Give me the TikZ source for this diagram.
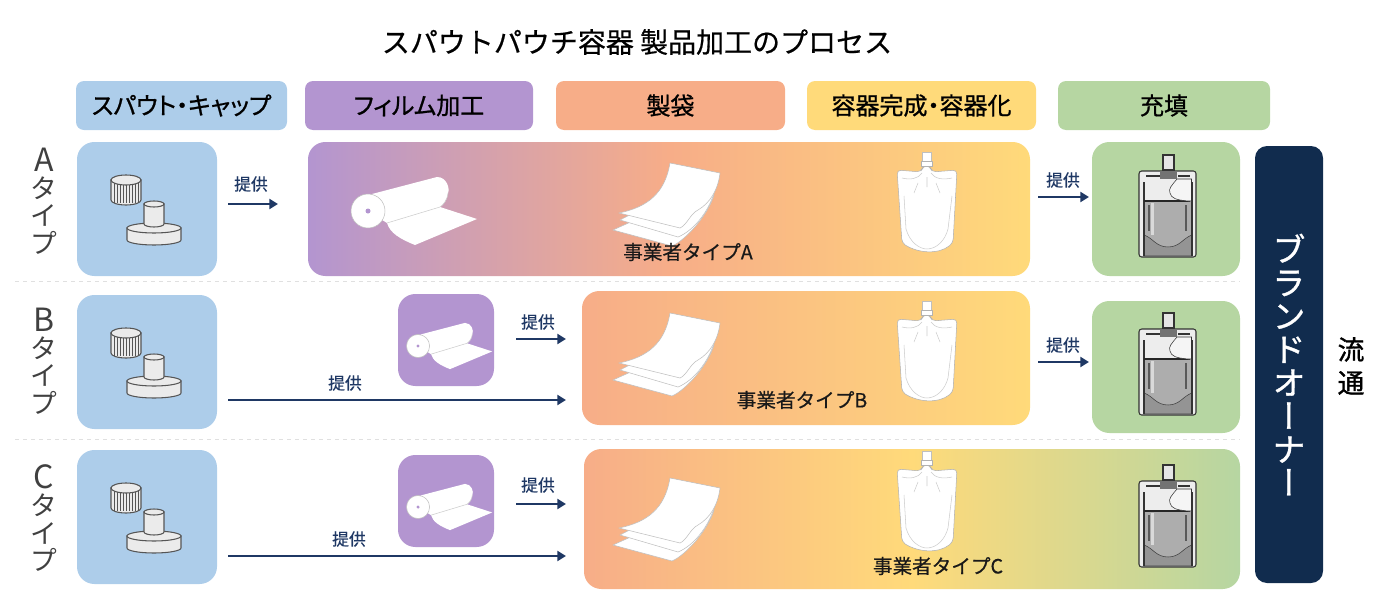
\documentclass[tikz,border=0pt]{standalone}
\usepackage{fontspec}
\setmainfont{Noto Sans CJK JP}
\newfontfamily\vertfont[RawFeature=+vert,FakeBold=1]{Noto Sans CJK JP}
\newfontfamily\headfont[RawFeature=+palt,FakeBold=.9]{Noto Sans CJK JP}
\newfontfamily\labelfont[FakeBold=.5]{Noto Sans CJK JP}
\newfontfamily\flowfont[FakeBold=1.1]{Noto Sans CJK JP}
\usetikzlibrary{arrows.meta}
\definecolor{spoutC}{HTML}{ADCDEA}
\definecolor{filmC}{HTML}{B395D0}
\definecolor{bagC}{HTML}{F7AD88}
\definecolor{pouchC}{HTML}{FFDA7A}
\definecolor{fillC}{HTML}{B6D6A2}
\definecolor{brandC}{HTML}{112C4E}
\definecolor{arrowC}{HTML}{1F3864}
\definecolor{iconC}{HTML}{555555}
\pgfdeclarehorizontalshading{gradA}{100bp}{color(0bp)=(filmC);color(25bp)=(filmC);color(50bp)=(bagC);color(75bp)=(pouchC);color(100bp)=(pouchC)}
\pgfdeclarehorizontalshading{gradB}{100bp}{color(0bp)=(bagC);color(25bp)=(bagC);color(75bp)=(pouchC);color(100bp)=(pouchC)}
\pgfdeclarehorizontalshading{gradC}{100bp}{color(0bp)=(bagC);color(25bp)=(bagC);color(50bp)=(pouchC);color(75bp)=(fillC);color(100bp)=(fillC)}
\tikzset{
  capsetP/.pic={
    \draw[iconC,fill=white!92!black,thick] (-36,-28) -- (-36,-8) arc[start angle=180,end angle=0,x radius=15,y radius=5] -- (-6,-28) -- cycle;
    \foreach \rib in {-33,-30,...,-9} \draw[iconC,thin] (\rib,-25) -- (\rib,-5);
    \draw[iconC,fill=white!92!black,thick] (-21,-28) ellipse[x radius=15,y radius=5];
    \draw[iconC,fill=white!92!black,thick] (-20,20) -- (-20,32) arc[start angle=180,end angle=0,x radius=27,y radius=5] -- (34,20) -- cycle;
    \draw[iconC,fill=white!92!black,thick] (7,20) ellipse[x radius=27,y radius=5];
    \draw[iconC,fill=white!92!black,thick] (-3,-4) -- (-3,16) arc[start angle=180,end angle=0,x radius=10,y radius=3] -- (17,-4) -- cycle;
    \draw[iconC,fill=white!92!black,thick] (7,-4) ellipse[x radius=10,y radius=3];
  },
  rollP/.pic={
    \fill[white] (-43,-17) -- (22,-34) .. controls (32,-34) and (35,-22) .. (33,-18) .. controls (32,-10) and (28,-6) .. (25,-4) -- (62,8) -- (0,34) .. controls (-15,28) and (-25,22) .. (-28,12) -- (-47,0) -- cycle;
    \draw[black!20] (-28,12) -- (25,-4) .. controls (28,-6) and (32,-10) .. (33,-18);
    \draw[black!25,fill=white] (-47,0) circle[radius=17];
    \fill[filmC] (-47,0) circle[radius=2.5];
  },
  sheetP/.pic={
    \draw[black!25,fill=white] (-55,25) -- (4,41) .. controls (18,35) and (40,10) .. (46,-10) -- (0,0) -- cycle;
    \draw[black!25,fill=white] (-48,15) -- (10,32) .. controls (25,26) and (45,5) .. (50,-28) -- (0,-10) -- cycle;
    \draw[black!25,fill=white] (-49,8) .. controls (-20,2) and (-3,-12) .. (2,-42) -- (52,-32) .. controls (50,-15) and (42,-2) .. (30,5) .. controls (22,9) and (19,20) .. (12,23) -- cycle;
  },
  pouchP/.pic={
    \draw[black!25,fill=white] (-6,-53) rectangle (3,-44);
    \draw[black!30,fill=white,rounded corners=3pt] (-5,-39) -- (-7,-33) -- (-31,-35) -- (-26,38) .. controls (-10,48) and (10,50) .. (25,38) -- (29,-35) -- (4,-33) -- (2,-39) -- cycle;
    \draw[black!30,fill=white] (-7,-44) rectangle (4,-39);
    \draw[black!20] (-26,-27) .. controls (-18,-25) and (-10,-26) .. (-6,-32) (24,-27) .. controls (15,-25) and (7,-26) .. (3,-32) (-24,-9) -- (-22,24) .. controls (-18,38) and (-8,44) .. (-1,44) .. controls (8,44) and (17,36) .. (20,24) -- (24,-9) (-1,-28) -- (-1,-18) (-10,-22) -- (-14,-12) (8,-22) -- (12,-12);
  },
  filledP/.pic={
    \draw[black!80,fill=black!10,thick] (-5,-58) rectangle (6,-43);
    \draw[black!80,fill=white!93!black,thick,rounded corners=2pt] (-29,-42) rectangle (28,44);
    \fill[black!32] (-24,-12) rectangle (24,43);
    \fill[white!85!black] (-17,-10) rectangle (-14,22);
    \draw[black!75,fill=black!42] (-24,22) .. controls (-15,25) and (-12,34) .. (0,34) .. controls (12,34) and (15,25) .. (24,22) -- (24,43) -- (-24,43) -- cycle;
    \draw[black!80,thick] (-24,43) -- (-24,-31) (24,43) -- (24,-31);
    \draw[black!85,line width=1.2pt] (-24,-12) -- (22,-12);
    \draw[black!65,line width=.9pt] (-19,-8) -- (-19,18) (18,-8) -- (18,18);
    \draw[black!80,fill=white!96!black] (9,-34) .. controls (4,-28) and (0,-24) .. (2,-20) .. controls (3,-15) and (8,-13) .. (20,-12) -- (23.5,-12) -- (23.5,-34) -- cycle;
    \draw[black!80,thick] (-22,-37) -- (-7,-37) (10,-37) -- (22,-37);
    \fill[black!55] (-8,-41) -- (9,-41) -- (9,-34) -- (-8,-34) -- cycle;
  },
}
\begin{document}
\begin{tikzpicture}
  [x=.75pt,y=-.75pt,
   sizeN/.style 2 args={minimum width=#1*.75pt,minimum height=#2*.75pt,inner sep=0pt},
   headN/.style={rounded corners=6pt,font=\fontsize{18}{19}\selectfont\headfont},
   iconN/.style={rounded corners=13pt},
   rowN/.style={font=\fontsize{20}{20.5}\selectfont,text=black!75,align=center},
   vendorN/.style={font=\fontsize{14.7}{16}\selectfont\labelfont,text=black!90},
   giveN/.style={font=\fontsize{12.6}{14}\selectfont\labelfont,text=arrowC},
   giveA/.style={arrowC,line width=2pt,-{Triangle[length=6.5pt,width=7.5pt]}},
   rowLine/.style={black!12,dashed,thin},
  ]

 \useasboundingbox (0,0) rectangle (1400,600);

 \node (title) at (637,42) {\fontsize{21}{24}\selectfont\labelfont スパウトパウチ容器 製品加工のプロセス};

 \node[headN,sizeN={211}{49},fill=spoutC] (headSpout) at (181.5,105.5) {スパウト・キャップ};
 \node[headN,sizeN={228}{49},fill=filmC] (headFilm) at (419,105.5) {フィルム加工};
 \node[headN,sizeN={229}{49},fill=bagC] (headBag) at (670.5,105.5) {製袋};
 \node[headN,sizeN={229}{49},fill=pouchC] (headPouch) at (921.5,105.5) {容器完成・容器化};
 \node[headN,sizeN={212}{49},fill=fillC] (headFill) at (1164,105.5) {充填};

 \coordinate (lineAl) at (15,281);
 \coordinate (lineAr) at (1240,281);
 \coordinate (lineBl) at (15,439);
 \coordinate (lineBr) at (1240,439);
 \draw[rowLine] (lineAl) -- (lineAr);
 \draw[rowLine] (lineBl) -- (lineBr);

 \node[rowN] (rowA) at (44,201) {{\fontsize{24}{20.5}\selectfont A}\\タ\\イ\\プ};
 \node[rowN] (rowB) at (44,361) {{\fontsize{24}{20.5}\selectfont B}\\タ\\イ\\プ};
 \node[rowN] (rowC) at (44,518) {{\fontsize{24}{20.5}\selectfont C}\\タ\\イ\\プ};

 % type A
 \node[iconN,sizeN={140}{134},fill=spoutC] (spoutA) at (147,209) {};
 \node[iconN,sizeN={722}{134},shade,shading=gradA] (vendorA) at (669,209) {};
 \node[iconN,sizeN={148}{134},fill=fillC] (fillA) at (1166,209) {};
 \pic at (147,208) {capsetP};
 \pic at (415,211) {rollP};
 \pic at (668,205) {sheetP};
 \pic at (928,205) {pouchP};
 \pic at (1168,213) {filledP};
 \node[vendorN] (nameA) at (688,252) {事業者タイプA};
 \coordinate (giveAs) at (228,204);
 \coordinate (giveAe) at (278,204);
 \draw[giveA] (giveAs) -- (giveAe);
 \node[giveN] (giveAt) at (251,184) {提供};
 \coordinate (fillAs) at (1038,197);
 \coordinate (fillAe) at (1089,197);
 \draw[giveA] (fillAs) -- (fillAe);
 \node[giveN] (fillAt) at (1063,180) {提供};

 % type B
 \node[iconN,sizeN={140}{134},fill=spoutC] (spoutB) at (147,362) {};
 \node[iconN,sizeN={96}{92},fill=filmC] (filmB) at (446,340) {};
 \node[iconN,sizeN={448}{134},shade,shading=gradB] (vendorB) at (806,358) {};
 \node[iconN,sizeN={148}{132},fill=fillC] (fillB) at (1166,367) {};
 \pic at (147,361) {capsetP};
 \pic[scale=.68] at (450,346) {rollP};
 \pic at (668,355) {sheetP};
 \pic at (928,354) {pouchP};
 \pic at (1168,371) {filledP};
 \node[vendorN] (nameB) at (802,400) {事業者タイプB};
 \coordinate (filmBs) at (516,339);
 \coordinate (filmBe) at (566,339);
 \draw[giveA] (filmBs) -- (filmBe);
 \node[giveN] (filmBt) at (538,322) {提供};
 \coordinate (spoutBs) at (228,400);
 \coordinate (spoutBe) at (566,400);
 \draw[giveA] (spoutBs) -- (spoutBe);
 \node[giveN] (spoutBt) at (345,383) {提供};
 \coordinate (fillBs) at (1038,362);
 \coordinate (fillBe) at (1089,362);
 \draw[giveA] (fillBs) -- (fillBe);
 \node[giveN] (fillBt) at (1063,345) {提供};

 % type C
 \node[iconN,sizeN={140}{134},fill=spoutC] (spoutC) at (147,517) {};
 \node[iconN,sizeN={96}{92},fill=filmC] (filmC) at (446,501) {};
 \node[iconN,sizeN={656}{140},shade,shading=gradC] (vendorC) at (912,519) {};
 \pic at (147,516) {capsetP};
 \pic[scale=.68] at (450,507) {rollP};
 \pic at (668,520) {sheetP};
 \pic at (928,504) {pouchP};
 \pic at (1168,523) {filledP};
 \node[vendorN] (nameC) at (938,566) {事業者タイプC};
 \coordinate (filmCs) at (516,504);
 \coordinate (filmCe) at (566,504);
 \draw[giveA] (filmCs) -- (filmCe);
 \node[giveN] (filmCt) at (538,485) {提供};
 \coordinate (spoutCs) at (228,556);
 \coordinate (spoutCe) at (566,556);
 \draw[giveA] (spoutCs) -- (spoutCe);
 \node[giveN] (spoutCt) at (349,539) {提供};

 \node[sizeN={68}{437},fill=brandC,rounded corners=9pt] (brand) at (1289,364.5) {};
 \node[text=white,align=center,font=\fontsize{25}{25}\selectfont\vertfont] (brandT) at (1289,364.5) {ブ\\ラ\\ン\\ド\\オ\\ー\\ナ\\ー};
 \node[align=center,font=\fontsize{20}{25}\selectfont\flowfont] (flow) at (1351,366) {流\\通};
\end{tikzpicture}
\end{document}
